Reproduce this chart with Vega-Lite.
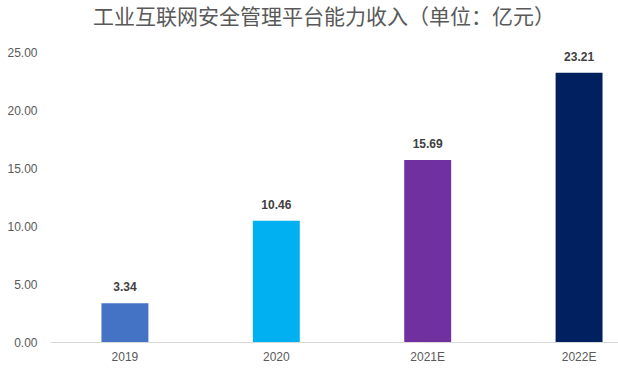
{
  "$schema": "https://vega.github.io/schema/vega-lite/v6.json",
  "autosize": "none",
  "width": 604,
  "height": 290,
  "padding": {"left": 50, "top": 52, "right": 0, "bottom": 29},
  "background": "white",
  "title": {
    "text": "工业互联网安全管理平台能力收入（单位：亿元）",
    "font": "Noto Sans CJK SC",
    "fontSize": 21,
    "fontWeight": "normal",
    "color": "#595959",
    "anchor": "middle",
    "dx": -28,
    "offset": 18
  },
  "data": {
    "values": [
      {"year": "2019", "value": 3.34},
      {"year": "2020", "value": 10.46},
      {"year": "2021E", "value": 15.69},
      {"year": "2022E", "value": 23.21}
    ]
  },
  "config": {"view": {"stroke": null}},
  "encoding": {
    "x": {
      "field": "year",
      "type": "nominal",
      "sort": null,
      "scale": {"paddingInner": 0.69, "paddingOuter": 0.34},
      "axis": {
        "title": null,
        "labelAngle": 0,
        "ticks": false,
        "domainColor": "#D9D9D9",
        "domainWidth": 1,
        "labelColor": "#595959",
        "labelFont": "Liberation Sans",
        "labelFontSize": 12,
        "labelPadding": 9
      }
    },
    "y": {
      "field": "value",
      "type": "quantitative",
      "scale": {"domain": [0, 25]},
      "axis": {
        "title": null,
        "values": [0, 5, 10, 15, 20, 25],
        "format": ".2f",
        "domain": false,
        "ticks": false,
        "grid": false,
        "labelColor": "#595959",
        "labelFont": "Liberation Sans",
        "labelFontSize": 12,
        "labelPadding": 13
      }
    }
  },
  "layer": [
    {
      "mark": {"type": "bar"},
      "encoding": {
        "color": {
          "field": "year",
          "type": "nominal",
          "scale": {
            "domain": ["2019", "2020", "2021E", "2022E"],
            "range": ["#4472C4", "#00B0F0", "#7030A0", "#002060"]
          },
          "legend": null
        }
      }
    },
    {
      "mark": {
        "type": "text",
        "baseline": "bottom",
        "dy": -9,
        "font": "Liberation Sans",
        "fontSize": 12,
        "fontWeight": "bold",
        "color": "#404040"
      },
      "encoding": {
        "text": {"field": "value", "type": "quantitative", "format": ".2f"}
      }
    }
  ]
}
